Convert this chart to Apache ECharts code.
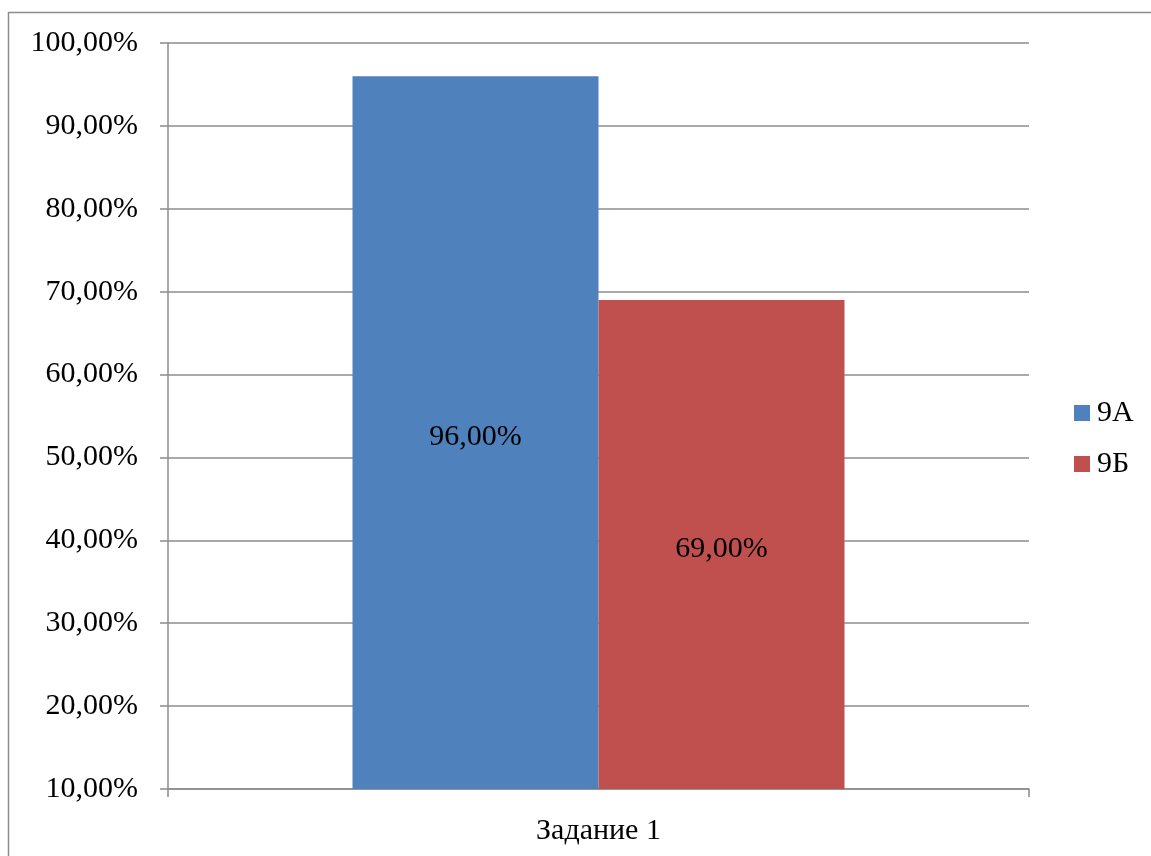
<!DOCTYPE html>
<html>
<head>
<meta charset="utf-8">
<script src="https://cdn.jsdelivr.net/npm/echarts@6/dist/echarts.min.js"></script>
<style>
html,body{margin:0;padding:0;background:#fff;}
#chart{width:1151px;height:856px;}
</style>
</head>
<body>
<div id="chart"></div>
<script>
const categories = ['Задание 1'];
const seriesNames = ['9А', '9Б'];
const values9A = [96];
const values9B = [69];
const colors = ['#4F81BD', '#C0504D'];

const font = '"Liberation Serif", "Times New Roman", serif';
const fmt = v => (typeof v === 'object' ? v.value : v).toFixed(2).replace('.', ',') + '%';

const chart = echarts.init(document.getElementById('chart'));
chart.setOption({
  animation: false,
  backgroundColor: '#fff',
  textStyle: { fontFamily: font },
  graphic: [{
    type: 'rect',
    shape: { x: 8.5, y: 12.5, width: 1300, height: 1000 },
    style: { fill: 'none', stroke: '#8c8c8c', lineWidth: 1.5 },
    silent: true, z: -1
  }],
  grid: { left: 168, right: 122, top: 43, bottom: 67 },
  legend: {
    orient: 'vertical',
    left: 1069, top: 393,
    itemWidth: 16, itemHeight: 16, itemGap: 21,
    icon: 'rect',
    textStyle: { fontFamily: font, fontSize: 30, color: '#000', lineHeight: 30, padding: [0, 0, 0, 2] },
    data: seriesNames
  },
  xAxis: {
    type: 'category',
    data: categories,
    axisLine: { lineStyle: { color: '#8c8c8c', width: 1.5 } },
    axisTick: { show: true, alignWithLabel: false, length: 8, lineStyle: { color: '#8c8c8c', width: 1.5 } },
    axisLabel: { fontFamily: font, fontSize: 30, color: '#000', margin: 27 },
    splitLine: { show: false }
  },
  yAxis: {
    type: 'value',
    min: 10, max: 100, interval: 10,
    axisLine: { show: true, lineStyle: { color: '#8c8c8c', width: 1.5 } },
    axisTick: { show: true, length: 8, lineStyle: { color: '#8c8c8c', width: 1.5 } },
    axisLabel: { fontFamily: font, fontSize: 30, color: '#000', margin: 30, formatter: fmt },
    splitLine: { show: true, lineStyle: { color: '#8c8c8c', width: 1.5 } }
  },
  series: [
    {
      name: seriesNames[0], type: 'bar', data: values9A,
      barWidth: 246, barGap: '0%',
      itemStyle: { color: colors[0] },
      label: { show: true, position: 'inside', offset: [0, 5], fontFamily: font, fontSize: 30, color: '#000', formatter: fmt }
    },
    {
      name: seriesNames[1], type: 'bar', data: values9B,
      barWidth: 246, barGap: '0%',
      itemStyle: { color: colors[1] },
      label: { show: true, position: 'inside', offset: [0, 5], fontFamily: font, fontSize: 30, color: '#000', formatter: fmt }
    }
  ]
});
</script>
</body>
</html>
